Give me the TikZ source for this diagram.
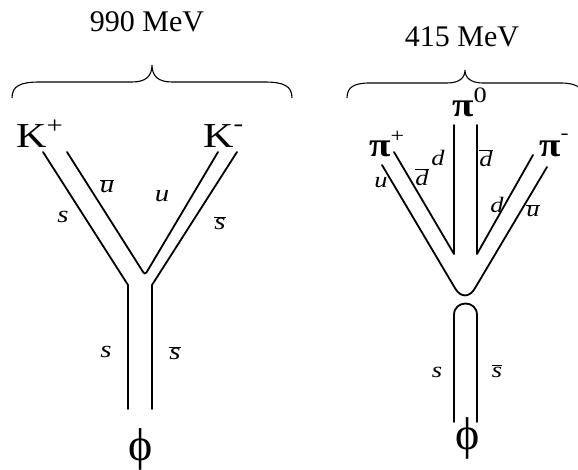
\documentclass[tikz,border=0pt]{standalone}
\usepackage{fontspec}
\setmainfont{Liberation Serif}
\newfontfamily\wf{Liberation Serif}[FakeStretch=1.2]
\newfontfamily\wfb{Liberation Serif Bold}[FakeStretch=1.15]
\newfontfamily\wfi{Liberation Serif Italic}[FakeStretch=1.2]
\newcommand{\qb}[1]{$\overline{\hbox{#1}}$}
\begin{document}
\begin{tikzpicture}[x=1pt,y=-1pt,
  quark/.style={line width=1.8pt, line cap=round, line join=round},
  bracepath/.style={line width=1.1pt},
  mev/.style={inner sep=0pt, font=\fontsize{30}{30}\selectfont},
  hadron/.style={inner sep=0pt, anchor=base west, font=\wf\fontsize{35}{35}\selectfont},
  pion/.style={inner sep=0pt, anchor=base west, font=\wfb\fontsize{34}{34}\selectfont},
  phi/.style={inner sep=0pt, font=\fontsize{46}{46}\selectfont},
  qL/.style={inner sep=0pt, font=\wfi\fontsize{24}{24}\selectfont},
  qR/.style={inner sep=0pt, font=\wfi\fontsize{22}{22}\selectfont}]
\useasboundingbox (0,0) rectangle (578,470);
\fill[white] (0,0) rectangle (578,470);

% ---------- left: phi -> K+ K- ----------
\node[mev, anchor=base] (mev1) at (147,32) {990 MeV};
\draw[bracepath] (12,98) .. controls (12,86) and (20,82) .. (40,82) -- (132,82)
   .. controls (146,82) and (152,76) .. (152,65)
   .. controls (152,76) and (158,82) .. (172,82) -- (264,82)
   .. controls (284,82) and (292,86) .. (292,98);

\node[hadron] (kp) at (16,148) {K\raisebox{0.4em}{\fontsize{24}{24}\selectfont +}};
\node[hadron] (km) at (203,148) {K\raisebox{0.48em}{\fontsize{24}{24}\selectfont -}};

\coordinate (a1) at (43,152);  \coordinate (a2) at (128,285); \coordinate (a3) at (128,409);
\coordinate (b1) at (237,152); \coordinate (b2) at (152,285); \coordinate (b3) at (152,409);
\coordinate (c1) at (67,152);  \coordinate (c2) at (145,275); \coordinate (c3) at (218,152);
\draw[quark] (a1) -- (a2) -- (a3);
\draw[quark] (b1) -- (b2) -- (b3);
\draw[quark, rounded corners=3pt] (c1) -- (c2) -- (c3);

\node[qL] (l1) at (107,186) {\qb{u}};
\node[qL] (l2) at (162,196) {u};
\node[qL] (l3) at (63,217) {s};
\node[qL] (l4) at (220,223) {\qb{s}};
\node[qL] (l5) at (106,352) {s};
\node[qL] (l6) at (175,353) {\qb{s}};

\node[phi] (phi1) at (141,449) {ϕ};

% ---------- right: phi -> pi+ pi0 pi- ----------
\node[mev, anchor=base] (mev2) at (462,47) {415 MeV};
\draw[bracepath] (347,98) .. controls (347,87) and (354,83) .. (370,83) -- (447,83)
   .. controls (459,83) and (465,78) .. (465,70)
   .. controls (465,78) and (471,83) .. (483,83) -- (560,83)
   .. controls (576,83) and (583,87) .. (583,98);

\node[pion] (pz) at (452,117) {π\raisebox{0.42em}{\wf\fontsize{22}{22}\selectfont 0}};
\node[pion] (pp) at (369,157) {π\raisebox{0.42em}{\wf\fontsize{20}{20}\selectfont +}};
\node[pion] (pm) at (539,157) {π\raisebox{0.5em}{\wf\fontsize{20}{20}\selectfont -}};

\coordinate (d1) at (382,165); \coordinate (d2) at (465,305); \coordinate (d3) at (547,167);
\coordinate (e1) at (394,152); \coordinate (e2) at (454,254); \coordinate (e3) at (454,125);
\coordinate (f1) at (533,155); \coordinate (f2) at (477,254); \coordinate (f3) at (477,125);
\draw[quark, rounded corners=19pt] (d1) -- (d2) -- (d3);
\draw[quark] (e1) -- (e2) -- (e3);
\draw[quark] (f1) -- (f2) -- (f3);
\coordinate (g1) at (454,422); \coordinate (g2) at (454,315);
\coordinate (h2) at (477,315); \coordinate (h1) at (477,422);
\draw[quark] (g1) -- (g2) .. controls (454,299.7) and (477,299.7) .. (h2) -- (h1);

\node[qR] (r1) at (381,183) {u};
\node[qR] (r2) at (422,177) {\qb{d}};
\node[qR] (r3) at (438,158) {d};
\node[qR] (r4) at (486,158) {\qb{d}};
\node[qR] (r5) at (497,205) {d};
\node[qR] (r6) at (533,211) {\qb{u}};
\node[qR] (r7) at (437,372) {s};
\node[qR] (r8) at (497,371) {\qb{s}};

\node[phi] (phi2) at (468,438) {ϕ};
\end{tikzpicture}
\end{document}
